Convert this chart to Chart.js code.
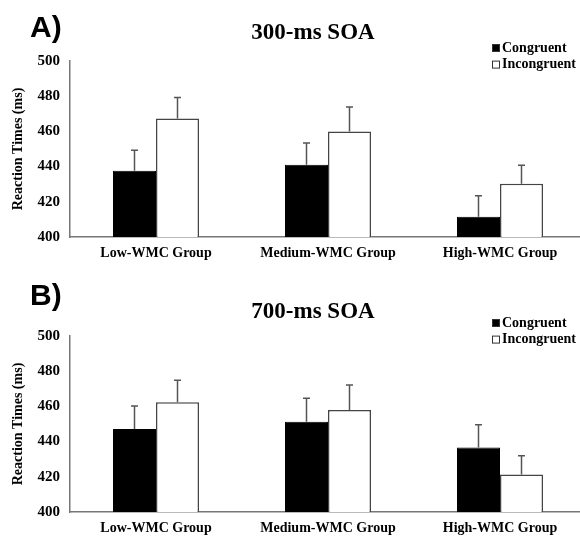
<!DOCTYPE html>
<html>
<head>
<meta charset="utf-8">
<script src="https://cdn.jsdelivr.net/npm/chart.js@4.4.1/dist/chart.umd.min.js"></script>
<style>
  html, body { margin: 0; padding: 0; background: #fff; }
  #wrap { position: relative; width: 580px; height: 536px; overflow: hidden; }
  #wrap canvas { position: absolute; left: 0; }
  #chartA { top: 0; }
  #chartB { top: 268px; }
</style>
</head>
<body>
<div id="wrap">
  <canvas id="chartA" width="592" height="268"></canvas>
  <canvas id="chartB" width="592" height="268"></canvas>
</div>
<script>
// Dados (médias e erro padrão, em ms)
const groups = ['Low-WMC Group', 'Medium-WMC Group', 'High-WMC Group'];
const rtTicks = [400, 420, 440, 460, 480, 500];

const soa300Congruent = [437.6, 441.0, 411.5];
const soa300CongruentErr = [11.7, 12.4, 11.9];
const soa300Incongruent = [467.4, 460.0, 430.2];
const soa300IncongruentErr = [11.8, 13.8, 10.6];

const soa700Congruent = [447.2, 451.3, 436.6];
const soa700CongruentErr = [13.0, 13.4, 13.0];
const soa700Incongruent = [462.3, 457.9, 421.3];
const soa700IncongruentErr = [12.6, 14.2, 10.7];

const serif = "'Liberation Serif', 'Times New Roman', serif";

// Plugin: letra do painel, título, legenda e barras de erro
const decorPlugin = {
  id: 'decor',
  afterDatasetsDraw(chart, args, opts) {
    const ctx = chart.ctx;
    const y = chart.scales.y;
    ctx.save();
    ctx.strokeStyle = '#555';
    ctx.lineWidth = 1.5;
    chart.data.datasets.forEach((ds, i) => {
      const meta = chart.getDatasetMeta(i);
      meta.data.forEach((bar, j) => {
        const top = y.getPixelForValue(ds.data[j] + ds.errors[j]);
        ctx.beginPath();
        ctx.moveTo(bar.x, bar.y);
        ctx.lineTo(bar.x, top);
        ctx.moveTo(bar.x - 3.5, top);
        ctx.lineTo(bar.x + 3.5, top);
        ctx.stroke();
      });
    });
    ctx.restore();
  },
  afterDraw(chart, args, opts) {
    const ctx = chart.ctx;
    ctx.save();
    // letra do painel
    ctx.fillStyle = '#000';
    ctx.font = "bold 30px 'Liberation Sans', Arial, sans-serif";
    ctx.textAlign = 'left';
    ctx.textBaseline = 'alphabetic';
    ctx.fillText(opts.panel, 30, opts.panelY);
    // título
    ctx.font = 'bold 23px ' + serif;
    ctx.textAlign = 'center';
    ctx.textBaseline = 'middle';
    ctx.fillText(opts.title, 313, opts.titleY);
    // legenda
    ctx.font = 'bold 14px ' + serif;
    ctx.textAlign = 'left';
    chart.data.datasets.forEach((ds, i) => {
      const ly = opts.legendY + i * 16.6;
      ctx.fillStyle = ds.backgroundColor;
      ctx.fillRect(492, ly - 4, 8, 8);
      ctx.strokeStyle = '#333';
      ctx.lineWidth = 1;
      ctx.strokeRect(492.5, ly - 3.5, 7, 7);
      ctx.fillStyle = '#000';
      ctx.fillText(ds.label, 502, ly);
    });
    ctx.restore();
  }
};

function criarGrafico(idCanvas, congruente, errCong, incongruente, errIncong, decor, topo, alturaX) {
  const ctx = document.getElementById(idCanvas).getContext('2d');
  return new Chart(ctx, {
    type: 'bar',
    data: {
      labels: groups,
      datasets: [
        {
          label: 'Congruent',
          data: congruente,
          errors: errCong,
          backgroundColor: '#000',
          borderColor: '#000',
          borderWidth: 1,
          categoryPercentage: 0.5,
          barPercentage: 1.0
        },
        {
          label: 'Incongruent',
          data: incongruente,
          errors: errIncong,
          backgroundColor: '#fff',
          borderColor: '#444',
          borderWidth: 1.5,
          categoryPercentage: 0.5,
          barPercentage: 1.0
        }
      ]
    },
    options: {
      responsive: false,
      animation: false,
      devicePixelRatio: 1,
      layout: { padding: { top: topo, left: 0, right: 6, bottom: 0 } },
      plugins: {
        legend: { display: false },
        tooltip: { enabled: false },
        decor: decor
      },
      scales: {
        x: {
          grid: { display: false, drawTicks: false },
          border: { color: '#777', width: 1.5 },
          ticks: { color: '#000', padding: 8, font: { family: serif, size: 14, weight: 'bold' } },
          afterFit: scale => { scale.height = alturaX; }
        },
        y: {
          min: rtTicks[0],
          max: rtTicks[rtTicks.length - 1],
          grid: { display: false, drawTicks: false },
          border: { color: '#777', width: 1.5 },
          ticks: {
            stepSize: rtTicks[1] - rtTicks[0],
            color: '#000',
            padding: 10,
            font: { family: serif, size: 15, weight: 'bold' }
          },
          title: {
            display: true,
            text: 'Reaction Times (ms)',
            color: '#000',
            padding: { top: 10, bottom: 0 },
            font: { family: serif, size: 14, weight: 'bold' }
          },
          afterFit: scale => { scale.width = 70; }
        }
      }
    },
    plugins: [decorPlugin]
  });
}

criarGrafico('chartA', soa300Congruent, soa300CongruentErr, soa300Incongruent, soa300IncongruentErr,
  { panel: 'A)', panelY: 37, title: '300-ms SOA', titleY: 33, legendY: 48 }, 61, 31);

criarGrafico('chartB', soa700Congruent, soa700CongruentErr, soa700Incongruent, soa700IncongruentErr,
  { panel: 'B)', panelY: 37, title: '700-ms SOA', titleY: 44, legendY: 55 }, 68, 24);
</script>
</body>
</html>
